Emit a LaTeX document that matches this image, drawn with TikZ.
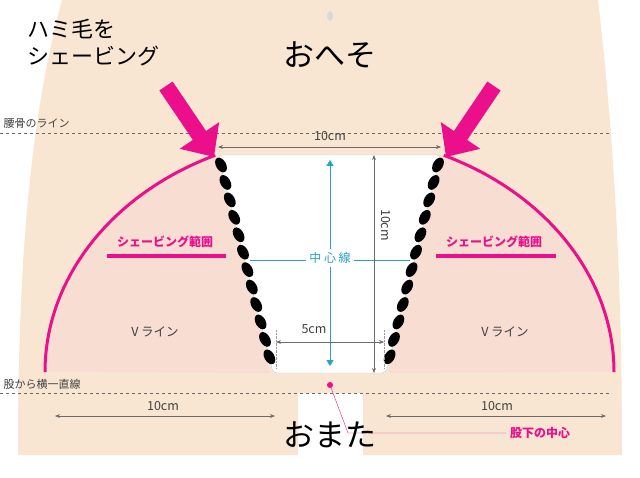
\documentclass[tikz,border=0pt]{standalone}
\usepackage{fontspec}
\setmainfont{Noto Sans CJK JP}
\usetikzlibrary{arrows.meta, positioning, calc, shapes.geometric}
\definecolor{SkinBeige}{HTML}{F9E6D2}
\definecolor{ZonePink}{HTML}{F7DDD2}
\definecolor{HotPink}{HTML}{EC0F8C}
\definecolor{GuideBlue}{HTML}{2A9FC8}
\definecolor{DimGray}{HTML}{6A6A6A}

\begin{document}
\begin{tikzpicture}[x=1pt, y=-1pt, every node/.style={font=\small}, >=Stealth]
  \tikzset{
    dimline/.style={<->, draw=DimGray, thin, >={Stealth[length=5pt]}},
    guide/.style={draw=DimGray, dashed, thin},
    zonelabel/.style={text=HotPink, font=\fontsize{12}{14}\selectfont\bfseries},
    plain/.style={text=black!75, font=\fontsize{12.5}{14}\selectfont},
    bigtext/.style={font=\fontsize{31}{34}\selectfont},
    hair/.style={fill=black, ellipse, minimum width=10pt, minimum height=16pt, inner sep=0pt},
    bigarrow/.style={-{Triangle[length=26pt, width=46pt]}, line width=16pt, draw=HotPink}
  }
  \useasboundingbox (0,0) rectangle (640,477);
  \fill[white] (0,0) rectangle (640,477);

  % body
  \fill[SkinBeige] (62,0) .. controls (30,120) and (18,260) .. (18,455)
    -- (298,455) -- (298,393) -- (363,393) -- (363,455) -- (622,455)
    .. controls (622,260) and (612,120) .. (598,0) -- cycle;
  \fill[black!15] (330,16) ellipse (3pt and 5pt);

  % shaving zones
  \fill[ZonePink] (45,372) arc[start angle=180, end angle=245.6, x radius=290, y radius=238] -- (270,373) -- cycle;
  \fill[ZonePink] (614,372) arc[start angle=0, end angle=-65.6, x radius=290, y radius=238] -- (388,373) -- cycle;
  \draw[HotPink, line width=3pt] (45,372) arc[start angle=180, end angle=245.6, x radius=290, y radius=238];
  \draw[HotPink, line width=3pt] (614,372) arc[start angle=0, end angle=-65.6, x radius=290, y radius=238];

  % white triangle zone
  \node[coordinate] (tl) at (218,155) {};
  \node[coordinate] (tr) at (441,155) {};
  \node[coordinate] (bl) at (273,373) {};
  \node[coordinate] (br) at (386,373) {};
  \draw[GuideBlue!40, fill=white, rounded corners=4pt] (tl) -- (bl) -- (br) -- (tr) -- cycle;

  % hair
  \foreach \t in {0,0.08,...,0.93}{
    \node[hair, rotate=30] at ($(tl)!\t!(bl)+(3,10)$) {};
    \node[hair, rotate=-30] at ($(tr)!\t!(br)+(-3,10)$) {};
  }

  % guide lines
  \draw[guide] (0,133) -- (612,133);
  \draw[guide] (0,393) -- (612,393);
  \node[plain, anchor=west, font=\fontsize{11}{13}\selectfont] (hipline) at (0,124) {腰骨のライン};
  \node[plain, anchor=west, font=\fontsize{11}{13}\selectfont] (crotchline) at (0,384) {股から横一直線};

  % centre line
  \draw[GuideBlue, thin] (250,260) -- (410,260);
  \draw[GuideBlue, thin, {Triangle[length=6pt,width=7pt]}-{Triangle[length=6pt,width=7pt]}] (330,160) -- (330,366);
  \node[text=GuideBlue, fill=white, font=\fontsize{12}{14}\selectfont] (centre) at (330,258) {中 心 線};

  % dimensions
  \draw[dimline] (tl |- 0,147) -- (tr |- 0,147);
  \node[plain] (topw) at (330,136) {10cm};
  \draw[dimline] (374,155) -- (374,373);
  \node[plain, rotate=-90] (height) at (386,225) {10cm};
  \draw[dimline] (276,342) -- (384,342);
  \draw[densely dotted, black!40] (276,330) -- (276,368) (384,330) -- (384,368);
  \node[plain] (botw) at (314,329) {5cm};
  \draw[dimline] (55,416) -- (275,416);
  \node[plain] (leftw) at (163,406) {10cm};
  \draw[dimline] (386,416) -- (606,416);
  \node[plain] (rightw) at (497,406) {10cm};

  % zone labels
  \node[zonelabel] (zoneL) at (165,242) {シェービング範囲};
  \draw[HotPink, line width=4.5pt] (107,256) -- (226,256);
  \node[zonelabel] (zoneR) at (494,242) {シェービング範囲};
  \draw[HotPink, line width=4.5pt] (436,256) -- (556,256);
  \node[plain] (vL) at (155,332) {V ライン};
  \node[plain] (vR) at (505,332) {V ライン};

  % crotch centre
  \fill[HotPink] (330,385) circle (3pt);
  \node[zonelabel] (mid) at (540,433) {股下の中心};
  \draw[HotPink, thin] (330,385) -- (348,433) -- (mid.west);

  % arrows
  \draw[bigarrow] (166,86) -- (214,157);
  \draw[bigarrow] (494,86) -- (446,157);

  % big texts
  \node[bigtext] (navel) at (330,55) {おへそ};
  \node[bigtext] (crotch) at (330,435) {おまた};
  \node[font=\fontsize{22}{27}\selectfont, align=left, anchor=north west] (title) at (24,16) {ハミ毛を\\シェービング};
\end{tikzpicture}
\end{document}
